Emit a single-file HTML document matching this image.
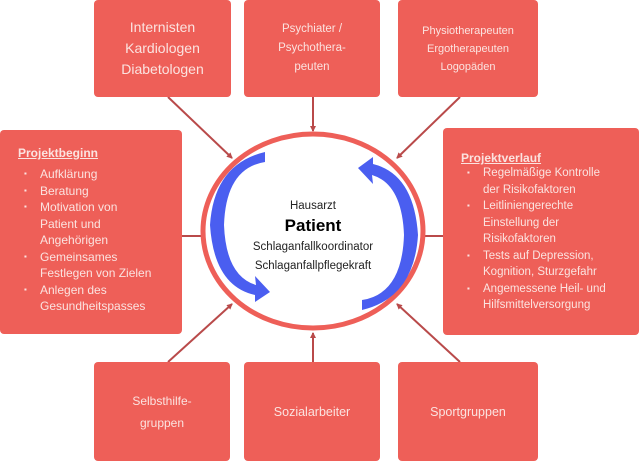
<!DOCTYPE html>
<html><head><style>
body{margin:0;width:639px;height:461px;background:#fff;position:relative;overflow:hidden;font-family:"Liberation Sans",sans-serif;}
.b{position:absolute;background:#ee5f58;border-radius:4px;color:#fbe3e0;box-sizing:border-box;}
.c{display:flex;align-items:center;justify-content:center;text-align:center;}
ul{margin:0;padding:0 0 0 22px;list-style:none;}
li{position:relative;line-height:16.5px;}
li:before{content:"▪";position:absolute;left:-16px;font-size:8px;}
h4{margin:0 0 6px 0;font-size:12px;text-decoration:underline;font-weight:bold;}
svg{position:absolute;left:0;top:0;}
</style></head><body>
<svg width="639" height="461">
<defs><marker id="a" markerWidth="6" markerHeight="6" refX="5" refY="3" orient="auto" markerUnits="userSpaceOnUse"><path d="M0,0L6,3L0,6z" fill="#b94a4a"/></marker></defs>
<g stroke="#b94a4a" stroke-width="2" marker-end="url(#a)">
<line x1="168" y1="97" x2="232" y2="158"/>
<line x1="313" y1="97" x2="313" y2="131"/>
<line x1="460" y1="97" x2="397" y2="158"/>
<line x1="168" y1="362" x2="232" y2="304"/>
<line x1="313" y1="461" x2="313" y2="333"/>
<line x1="460" y1="362" x2="397" y2="304"/>
</g>
<g stroke="#b94a4a" stroke-width="2"><line x1="182" y1="236" x2="202" y2="236"/><line x1="424" y1="236" x2="443" y2="236"/></g>
<ellipse cx="313" cy="231" rx="110" ry="97" fill="#fff" stroke="#ee5f58" stroke-width="5"/>
<path d="M265,162 Q226,168 224,225 Q226,276 256,285 L255,276 L270,292 L255,302 L255,295 Q214,286 210,225 Q214,164 265,152 Z" fill="#4a5ef0"/>
<path d="M362,300 Q402,294 404,235 Q402,184 372,175 L373,184 L358,168 L373,157 L373,164 Q414,174 418,235 Q414,298 362,310 Z" fill="#4a5ef0"/>
</svg>
<div class="b c" style="left:94px;top:0;width:137px;height:97px;font-size:14px;line-height:21px;">Internisten<br>Kardiologen<br>Diabetologen</div>
<div class="b c" style="left:244px;top:0;width:136px;height:97px;font-size:11.5px;line-height:19px;">Psychiater /<br>Psychothera-<br>peuten</div>
<div class="b c" style="left:398px;top:0;width:140px;height:97px;font-size:11px;line-height:18px;">Physiotherapeuten<br>Ergotherapeuten<br>Logopäden</div>
<div class="b" style="left:0;top:130px;width:182px;height:204px;padding:16px 0 0 18px;font-size:12px;"><h4>Projektbeginn</h4><ul><li>Aufklärung</li><li>Beratung</li><li>Motivation von<br>Patient und<br>Angehörigen</li><li>Gemeinsames<br>Festlegen von Zielen</li><li>Anlegen des<br>Gesundheitspasses</li></ul></div>
<div class="b" style="left:443px;top:128px;width:196px;height:207px;padding:23px 0 0 18px;font-size:11.5px;"><h4 style="margin:0">Projektverlauf</h4><ul><li>Regelmäßige Kontrolle<br>der Risikofaktoren</li><li>Leitliniengerechte<br>Einstellung der<br>Risikofaktoren</li><li>Tests auf Depression,<br>Kognition, Sturzgefahr</li><li>Angemessene Heil- und<br>Hilfsmittelversorgung</li></ul></div>
<div class="b c" style="left:94px;top:362px;width:136px;height:99px;font-size:12px;line-height:22px;">Selbsthilfe-<br>gruppen</div>
<div class="b c" style="left:244px;top:362px;width:136px;height:99px;font-size:12.5px;">Sozialarbeiter</div>
<div class="b c" style="left:398px;top:362px;width:140px;height:99px;font-size:12.5px;">Sportgruppen</div>
<div style="position:absolute;left:213px;top:197px;width:200px;text-align:center;color:#222;font-size:11.5px;line-height:19px;">Hausarzt<br><b style="font-size:17px;color:#000;">Patient</b><br>Schlaganfallkoordinator<br>Schlaganfallpflegekraft</div>
</body></html>
